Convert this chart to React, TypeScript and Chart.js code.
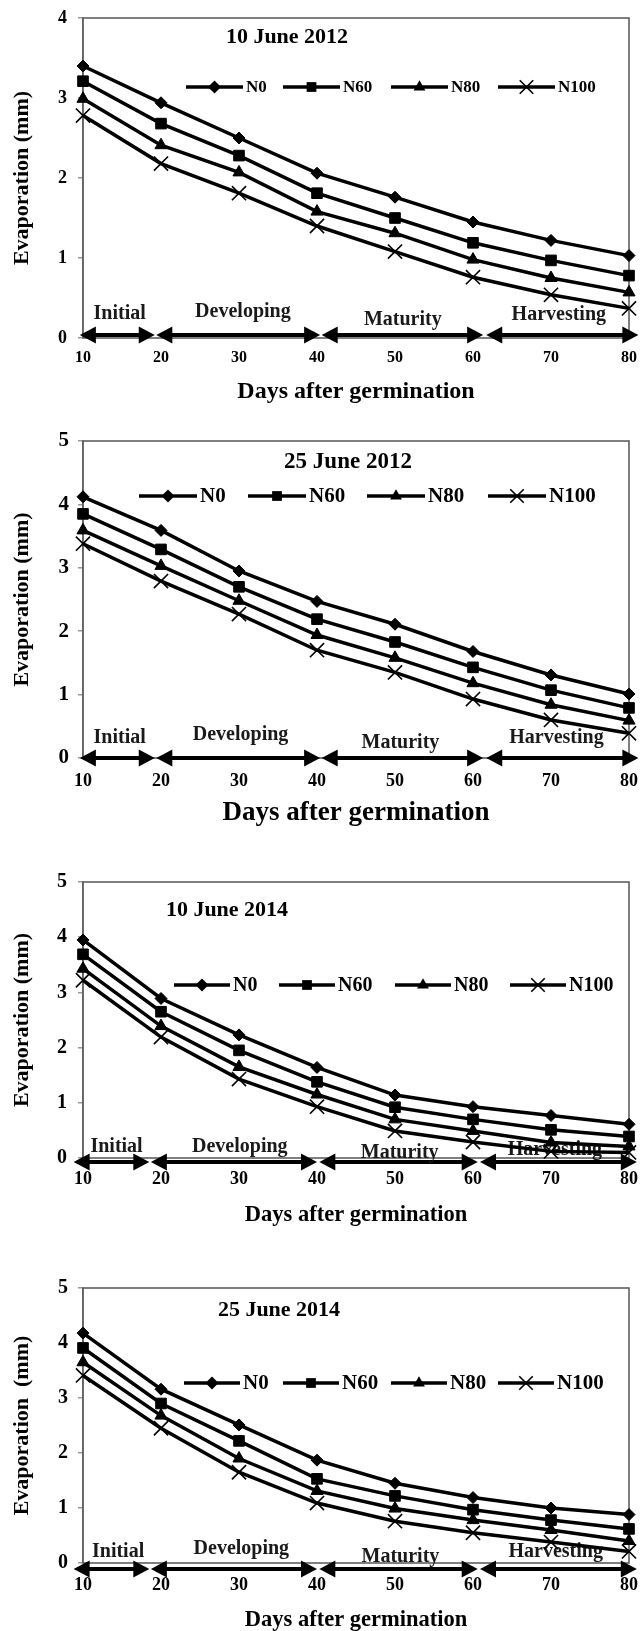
import React, { useEffect, useRef } from 'react';
import { Chart, registerables } from 'chart.js';

Chart.register(...registerables);

// ---------- data ----------
const days = [10, 20, 30, 40, 50, 60, 70, 80];
const seriesNames = ['N0', 'N60', 'N80', 'N100'];
const dateTitles = ['10 June 2012', '25 June 2012', '10 June 2014', '25 June 2014'];
const yMaxes = [4, 5, 5, 5];
const yTicksStep = 1;
const phaseNames = ['Initial', 'Developing', 'Maturity', 'Harvesting'];
const yTitles = ['Evaporation (mm)', 'Evaporation (mm)', 'Evaporation (mm)', 'Evaporation  (mm)'];
const xTitle = 'Days after germination';

const jun10_2012_N0 = [3.40, 2.94, 2.50, 2.06, 1.76, 1.45, 1.22, 1.03];
const jun10_2012_N60 = [3.21, 2.68, 2.28, 1.81, 1.50, 1.19, 0.97, 0.78];
const jun10_2012_N80 = [2.99, 2.41, 2.07, 1.58, 1.31, 0.98, 0.75, 0.57];
const jun10_2012_N100 = [2.78, 2.18, 1.81, 1.40, 1.08, 0.76, 0.54, 0.37];

const jun25_2012_N0 = [4.12, 3.59, 2.95, 2.47, 2.11, 1.68, 1.31, 1.01];
const jun25_2012_N60 = [3.85, 3.29, 2.70, 2.19, 1.83, 1.43, 1.07, 0.79];
const jun25_2012_N80 = [3.59, 3.03, 2.48, 1.94, 1.58, 1.18, 0.84, 0.59];
const jun25_2012_N100 = [3.38, 2.79, 2.27, 1.70, 1.35, 0.93, 0.60, 0.39];

const jun10_2014_N0 = [3.95, 2.89, 2.23, 1.64, 1.14, 0.93, 0.77, 0.61];
const jun10_2014_N60 = [3.69, 2.65, 1.95, 1.38, 0.92, 0.70, 0.51, 0.39];
const jun10_2014_N80 = [3.43, 2.39, 1.65, 1.15, 0.70, 0.49, 0.28, 0.21];
const jun10_2014_N100 = [3.22, 2.19, 1.43, 0.93, 0.49, 0.29, 0.12, 0.10];

const jun25_2014_N0 = [4.18, 3.16, 2.51, 1.87, 1.45, 1.19, 1.00, 0.88];
const jun25_2014_N60 = [3.91, 2.90, 2.22, 1.53, 1.22, 0.97, 0.78, 0.62];
const jun25_2014_N80 = [3.65, 2.68, 1.90, 1.31, 0.99, 0.78, 0.60, 0.40];
const jun25_2014_N100 = [3.41, 2.45, 1.65, 1.09, 0.76, 0.55, 0.38, 0.21];

// growth-stage arrows (in days)
const phaseFrom2012 = [9.6, 19.4, 40.6, 61.7];
const phaseTo2012 = [19.2, 40.4, 61.3, 81.2];
const phaseFrom2014 = [8.8, 18.7, 40.3, 60.9];
const phaseTo2014 = [18.5, 40.0, 60.6, 81.0];

const panelSeries = [
  [jun10_2012_N0, jun10_2012_N60, jun10_2012_N80, jun10_2012_N100],
  [jun25_2012_N0, jun25_2012_N60, jun25_2012_N80, jun25_2012_N100],
  [jun10_2014_N0, jun10_2014_N60, jun10_2014_N80, jun10_2014_N100],
  [jun25_2014_N0, jun25_2014_N60, jun25_2014_N80, jun25_2014_N100],
];
const panelPhaseFrom = [phaseFrom2012, phaseFrom2012, phaseFrom2014, phaseFrom2014];
const panelPhaseTo = [phaseTo2012, phaseTo2012, phaseTo2014, phaseTo2014];

// ---------- layout ----------
const FONT = "'Liberation Serif', 'Times New Roman', serif";
const W = 641;
const PLOT_LEFT = 83;
const PLOT_RIGHT = 629;

const panels = [
  {
    top: 0, height: 410, plotTop: 18, plotBottom: 338,
    yTickFont: 18, yTickPad: 11, xTickFont: 16, xTickPad: 10.4,
    yTitleFont: 22, xTitleFont: 24, xTitlePadB: 3.6,
    titleFont: 22, titleX: 287, titleY: 37,
    legendY: 87, legendStarts: [186, 283, 391, 498], legendLen: 57, legendFont: 17,
    arrowDy: -3, phaseFont: 20,
    phaseDays: [14.7, 30.5, 51, 71], phaseDy: [24, 26, 18, 23],
  },
  {
    top: 410, height: 430, plotTop: 441, plotBottom: 758,
    yTickFont: 21, yTickPad: 9, xTickFont: 18, xTickPad: 13,
    yTitleFont: 22, xTitleFont: 27, xTitlePadB: 10.8,
    titleFont: 23, titleX: 348, titleY: 462,
    legendY: 496, legendStarts: [139, 248, 367, 488], legendLen: 58, legendFont: 21,
    arrowDy: 0, phaseFont: 20,
    phaseDays: [14.7, 30.2, 50.7, 70.7], phaseDy: [20, 23, 15, 20],
  },
  {
    top: 840, height: 400, plotTop: 882, plotBottom: 1158,
    yTickFont: 20, yTickPad: 11, xTickFont: 18, xTickPad: 10.6,
    yTitleFont: 22, xTitleFont: 22.5, xTitlePadB: 11.5,
    titleFont: 22, titleX: 227, titleY: 910,
    legendY: 985, legendStarts: [174, 279, 395, 510], legendLen: 56, legendFont: 20,
    arrowDy: 4, phaseFont: 20,
    phaseDays: [14.3, 30.1, 50.6, 70.5], phaseDy: [11, 11, 5, 8],
  },
  {
    top: 1240, height: 391, plotTop: 1288, plotBottom: 1563,
    yTickFont: 20, yTickPad: 10, xTickFont: 18, xTickPad: 11.6,
    yTitleFont: 22, xTitleFont: 22.5, xTitlePadB: 0,
    titleFont: 22, titleX: 279, titleY: 1310,
    legendY: 1383, legendStarts: [184, 283, 391, 498], legendLen: 56, legendFont: 21,
    arrowDy: 6, phaseFont: 20,
    phaseDays: [14.5, 30.3, 50.7, 70.6], phaseDy: [11, 14, 6, 11],
  },
];

const markerStyles = [
  { pointStyle: 'rectRot', radius: 6, bw: 1 },
  { pointStyle: 'rect', radius: 7.5, bw: 1 },
  { pointStyle: 'triangle', radius: 7, bw: 1 },
  { pointStyle: 'crossRot', radius: 10, bw: 1.6 },
];

function drawMarker(ctx: CanvasRenderingContext2D, kind: number, x: number, y: number, s: number) {
  ctx.beginPath();
  if (kind === 0) {
    ctx.moveTo(x - s, y); ctx.lineTo(x, y - s); ctx.lineTo(x + s, y); ctx.lineTo(x, y + s);
    ctx.closePath(); ctx.fill();
  } else if (kind === 1) {
    const h = s * 0.75;
    ctx.rect(x - h, y - h, 2 * h, 2 * h); ctx.fill();
  } else if (kind === 2) {
    const r = s * 1.05;
    ctx.moveTo(x, y - r);
    ctx.lineTo(x + r * 0.866, y + r * 0.5);
    ctx.lineTo(x - r * 0.866, y + r * 0.5);
    ctx.closePath(); ctx.fill();
  } else {
    const d = s * 0.75;
    ctx.lineWidth = 1.6;
    ctx.moveTo(x - d, y - d); ctx.lineTo(x + d, y + d);
    ctx.moveTo(x + d, y - d); ctx.lineTo(x - d, y + d);
    ctx.stroke();
  }
}

function makeChart(canvas: HTMLCanvasElement, idx: number) {
  const cfg = panels[idx];
  const series = panelSeries[idx];
  const phaseFrom = panelPhaseFrom[idx];
  const phaseTo = panelPhaseTo[idx];
  const CT = cfg.top;

  const datasets = series.map((vals, i) => ({
    label: seriesNames[i],
    data: days.map((d, j) => ({ x: d, y: vals[j] })),
    borderColor: '#000',
    backgroundColor: '#000',
    borderWidth: 3.5,
    pointStyle: markerStyles[i].pointStyle,
    pointRadius: markerStyles[i].radius,
    pointBackgroundColor: '#000',
    pointBorderColor: '#000',
    pointBorderWidth: markerStyles[i].bw,
    tension: 0,
    clip: false,
  }));

  const deco = {
    id: 'deco' + idx,
    beforeDatasetsDraw(chart: any) {
      const { ctx, chartArea: a, scales } = chart;
      const x = scales.x, y = scales.y;
      ctx.save();
      ctx.strokeStyle = '#555';
      ctx.lineWidth = 1.5;
      ctx.strokeRect(a.left, a.top, a.right - a.left, a.bottom - a.top);

      const yAxis0 = y.getPixelForValue(0);
      const y0 = yAxis0 + cfg.arrowDy;
      const L = 16, H = 8.5;
      ctx.fillStyle = '#000';
      ctx.strokeStyle = '#000';
      for (let k = 0; k < phaseNames.length; k++) {
        const xa = x.getPixelForValue(phaseFrom[k]);
        const xb = x.getPixelForValue(phaseTo[k]);
        ctx.lineWidth = 4;
        ctx.beginPath();
        ctx.moveTo(xa + L - 2, y0);
        ctx.lineTo(xb - L + 2, y0);
        ctx.stroke();
        ctx.beginPath();
        ctx.moveTo(xa, y0); ctx.lineTo(xa + L, y0 - H); ctx.lineTo(xa + L, y0 + H);
        ctx.closePath(); ctx.fill();
        ctx.beginPath();
        ctx.moveTo(xb, y0); ctx.lineTo(xb - L, y0 - H); ctx.lineTo(xb - L, y0 + H);
        ctx.closePath(); ctx.fill();

        ctx.font = `bold ${cfg.phaseFont}px ${FONT}`;
        ctx.textAlign = 'center';
        ctx.textBaseline = 'middle';
        ctx.fillStyle = '#1a1a1a';
        ctx.fillText(phaseNames[k], x.getPixelForValue(cfg.phaseDays[k]), yAxis0 - cfg.phaseDy[k]);
        ctx.fillStyle = '#000';
      }
      ctx.restore();
    },
    afterDatasetsDraw(chart: any) {
      const { ctx } = chart;
      ctx.save();
      ctx.fillStyle = '#000';
      ctx.strokeStyle = '#000';
      ctx.font = `bold ${cfg.titleFont}px ${FONT}`;
      ctx.textAlign = 'center';
      ctx.textBaseline = 'middle';
      ctx.fillText(dateTitles[idx], cfg.titleX, cfg.titleY - CT);

      const ly = cfg.legendY - CT;
      for (let i = 0; i < seriesNames.length; i++) {
        const x0 = cfg.legendStarts[i];
        const x1 = x0 + cfg.legendLen;
        ctx.lineWidth = 3.5;
        ctx.beginPath();
        ctx.moveTo(x0, ly);
        ctx.lineTo(x1, ly);
        ctx.stroke();
        drawMarker(ctx, i, (x0 + x1) / 2, ly, i === 3 ? 9 : 6.5);
        ctx.font = `bold ${cfg.legendFont}px ${FONT}`;
        ctx.textAlign = 'left';
        ctx.textBaseline = 'middle';
        ctx.fillText(seriesNames[i], x1 + 3, ly + 1);
      }
      ctx.restore();
    },
  };

  return new Chart(canvas, {
    type: 'line',
    data: { datasets: datasets as any },
    plugins: [deco],
    options: {
      animation: false,
      responsive: false,
      maintainAspectRatio: false,
      devicePixelRatio: 1,
      layout: {
        padding: { left: 0, right: W - PLOT_RIGHT, top: cfg.plotTop - CT, bottom: 0 },
      },
      plugins: {
        legend: { display: false },
        tooltip: { enabled: false },
        title: { display: false },
      },
      scales: {
        x: {
          type: 'linear',
          min: days[0],
          max: days[days.length - 1],
          afterFit: (s: any) => {
            s.height = CT + cfg.height - cfg.plotBottom;
            s.paddingLeft = 0;
            s.paddingRight = 0;
          },
          grid: { display: false, drawTicks: false },
          border: { display: false },
          ticks: {
            stepSize: 10,
            padding: cfg.xTickPad,
            color: '#000',
            font: { family: FONT, size: cfg.xTickFont, weight: 'bold' },
            maxRotation: 0,
          },
          title: {
            display: true,
            text: xTitle,
            color: '#000',
            font: { family: FONT, size: cfg.xTitleFont, weight: 'bold', lineHeight: idx === 3 ? 1.0 : 1.2 },
            padding: { top: 0, bottom: cfg.xTitlePadB },
          },
        },
        y: {
          type: 'linear',
          min: 0,
          max: yMaxes[idx],
          afterFit: (s: any) => {
            s.width = PLOT_LEFT;
            s.paddingTop = 0;
            s.paddingBottom = 0;
          },
          grid: { display: true, drawOnChartArea: false, drawTicks: true, tickLength: 5, color: '#999', lineWidth: 1.5 },
          border: { display: true, color: '#888', width: 1.5 },
          ticks: {
            stepSize: yTicksStep,
            padding: cfg.yTickPad,
            color: '#000',
            font: { family: FONT, size: cfg.yTickFont, weight: 'bold' },
          },
          title: {
            display: true,
            text: yTitles[idx],
            color: '#000',
            font: { family: FONT, size: cfg.yTitleFont, weight: 'bold' },
            padding: { top: 9, bottom: 0 },
          },
        },
      },
    } as any,
  });
}

function Panel({ idx }: { idx: number }) {
  const ref = useRef<HTMLCanvasElement | null>(null);
  const cfg = panels[idx];
  useEffect(() => {
    if (!ref.current) return;
    const chart = makeChart(ref.current, idx);
    return () => chart.destroy();
  }, [idx]);
  return (
    <canvas
      ref={ref}
      width={W}
      height={cfg.height}
      style={{ position: 'absolute', left: 0, top: cfg.top, width: W, height: cfg.height }}
    />
  );
}

export default function App() {
  return (
    <div
      style={{
        position: 'absolute',
        left: 0,
        top: 0,
        width: W,
        height: 1631,
        overflow: 'hidden',
        background: '#fff',
      }}
    >
      {panels.map((_, i) => (
        <Panel key={i} idx={i} />
      ))}
    </div>
  );
}
